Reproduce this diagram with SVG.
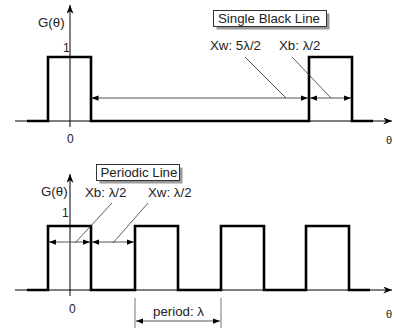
<svg xmlns="http://www.w3.org/2000/svg" width="395" height="332" viewBox="0 0 395 332">
<defs>
<marker id="ah" viewBox="0 0 8 6" refX="8" refY="3" markerWidth="7" markerHeight="5.5" markerUnits="userSpaceOnUse" orient="auto-start-reverse">
<path d="M0,0 L8,3 L0,6 z" fill="#000"/>
</marker>
<marker id="ax" viewBox="0 0 10 8" refX="10" refY="4" markerWidth="9" markerHeight="7" markerUnits="userSpaceOnUse" orient="auto">
<path d="M0,0 L10,4 L0,8 L3,4 z" fill="#000"/>
</marker>
</defs>
<style>
text{font-family:"Liberation Sans",Arial,sans-serif;font-size:13.3px;fill:#222}
.num{font-size:12px}
.sm{font-size:11px}
.axis{stroke:#000;stroke-width:1;fill:none}
.sig{stroke:#000;stroke-width:2.6;fill:none;stroke-linejoin:miter}
.dim{stroke:#555;stroke-width:1;fill:none}
.lead{stroke:#333;stroke-width:0.8;fill:none}
.tick{stroke:#777;stroke-width:1}
.shadow{fill:#999}
.box{fill:#fff;stroke:#333;stroke-width:1}
</style>
<rect width="395" height="332" fill="#fff"/>

<g id="top-plot">
<line class="axis" x1="15" y1="121" x2="392" y2="121" marker-end="url(#ax)"/>
<line class="axis" x1="70" y1="127" x2="70" y2="5" marker-end="url(#ax)"/>
<path class="sig" d="M27,121 H48 V57 H91 V121 H309 V57 H352 V121 H373"/>
<text x="38" y="27">G(θ)</text>
<text class="num" x="63" y="52">1</text>
<text class="num" x="67" y="143">0</text>
<text class="sm" x="386" y="144">θ</text>
</g>

<g id="label-single">
<rect class="shadow" x="216.5" y="13.5" width="113" height="16"/>
<rect class="box" x="213.5" y="10.5" width="113" height="16"/>
<text x="218" y="22.5">Single Black Line</text>
</g>

<g id="label-xw-top"><text x="210" y="50">Xw: 5λ/2</text></g>
<g id="label-xb-top"><text x="279" y="50">Xb: λ/2</text></g>

<g id="bottom-plot">
<line class="axis" x1="15" y1="290" x2="392" y2="290" marker-end="url(#ax)"/>
<line class="axis" x1="70" y1="296" x2="70" y2="174" marker-end="url(#ax)"/>
<path class="sig" d="M27,290 H48 V226 H91 V290 H135 V226 H178 V290 H221 V226 H264 V290 H306 V226 H349 V290 H370"/>
<text x="41" y="196">G(θ)</text>
<text class="num" x="62" y="217">1</text>
<text class="num" x="69" y="313">0</text>
<text class="sm" x="386" y="318">θ</text>
</g>

<g id="label-periodic">
<rect class="shadow" x="99.5" y="167.5" width="83" height="16"/>
<rect class="box" x="96.5" y="164.5" width="83" height="16"/>
<text x="100.5" y="176.5">Periodic Line</text>
</g>

<g id="label-xb-bot"><text x="85" y="197">Xb: λ/2</text></g>
<g id="label-xw-bot"><text x="148" y="197">Xw: λ/2</text></g>
<g id="label-period"><text x="153" y="316">period: λ</text></g>

<g id="connectors">
<line class="dim" x1="91.5" y1="98" x2="308" y2="98" marker-start="url(#ah)" marker-end="url(#ah)"/>
<line class="dim" x1="310" y1="98" x2="351" y2="98" marker-start="url(#ah)" marker-end="url(#ah)"/>
<line class="lead" x1="245" y1="57" x2="286" y2="98"/>
<line class="lead" x1="292" y1="57" x2="331" y2="98"/>

<line class="dim" x1="49" y1="242" x2="90" y2="242" marker-start="url(#ah)" marker-end="url(#ah)"/>
<line class="dim" x1="92" y1="242" x2="134" y2="242" marker-start="url(#ah)" marker-end="url(#ah)"/>
<line class="lead" x1="75" y1="243" x2="112" y2="203"/>
<line class="lead" x1="113" y1="243" x2="148" y2="203"/>

<line class="tick" x1="135" y1="298" x2="135" y2="328"/>
<line class="tick" x1="221" y1="298" x2="221" y2="328"/>
<line class="dim" x1="136" y1="321" x2="220" y2="321" marker-start="url(#ah)" marker-end="url(#ah)"/>
</g>
</svg>
